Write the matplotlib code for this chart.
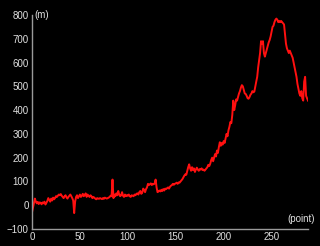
import matplotlib
matplotlib.use("Agg")
import matplotlib.pyplot as plt

elevation_m = [
    -30, -10, 12, 28, 15, 8, 14, 5, 12, 10,
    4, 12, 8, 15, 3, 10, 18, 30, 22, 15,
    28, 20, 32, 25, 30, 38, 35, 40, 45, 42,
    47, 40, 35, 30, 38, 42, 33, 28, 35, 40,
    45, 38, 30, 20, -33, 15, 35, 42, 30, 38,
    45, 35, 40, 48, 38, 42, 50, 35, 45, 40,
    35, 42, 38, 30, 35, 32, 28, 25, 30, 28,
    27, 30, 28, 26, 30, 27, 32, 30, 28, 30,
    32, 35, 40, 38, 108, 30, 45, 38, 50, 42,
    60, 45, 38, 42, 55, 40, 35, 45, 38, 42,
    40, 45, 38, 35, 42, 40, 38, 45, 42, 48,
    50, 45, 55, 60, 48, 52, 70, 65, 55, 68,
    75, 90, 85, 88, 92, 85, 90, 88, 92, 108,
    75, 55, 58, 62, 58, 65, 60, 68, 62, 70,
    68, 72, 75, 70, 78, 82, 85, 90, 86, 90,
    92, 95, 90, 96, 95, 100, 105, 110, 118, 125,
    130, 128, 145, 160, 172, 155, 145, 160, 148, 155,
    140, 150, 158, 150, 145, 152, 150, 155, 148, 150,
    145, 150, 155, 160, 170, 165, 175, 190, 200, 185,
    200, 215, 205, 230, 220, 245, 265, 250, 262, 255,
    270, 262, 280, 300, 290, 315, 330, 350, 345, 380,
    440, 400, 420, 445, 440, 455, 470, 480, 495, 505,
    500, 485, 470, 468, 460, 450, 448, 455, 465, 470,
    480, 475, 478, 500, 520, 540, 580, 610, 640, 690,
    680, 690, 640, 625, 640, 655, 670, 685, 695, 710,
    730, 750, 755, 770, 780, 785, 780, 770, 775, 770,
    775, 770, 765, 760, 720, 680, 660, 650, 640, 650,
    640, 630, 620, 600, 580, 560, 540, 510, 490, 470,
    460, 480, 450, 440, 520, 540, 460, 450, 440,
]
point_index = list(range(len(elevation_m)))
x_ticks = [0, 50, 100, 150, 200, 250]
y_ticks = [-100, 0, 100, 200, 300, 400, 500, 600, 700, 800]

plt.rcParams['font.family'] = ['Liberation Sans', 'DejaVu Sans']

fig = plt.figure(figsize=(3.2, 2.46), dpi=100, facecolor='black')
ax = fig.add_axes([0.1, 0.069, 0.8625, 0.87])
ax.set_facecolor('black')
ax.plot(point_index, elevation_m, color='#ff1010', linewidth=1.4)

ax.set_xlim(0, 288)
ax.set_ylim(-100, 800)
ax.set_xticks(x_ticks)
ax.set_yticks(y_ticks)
ax.tick_params(length=0, labelsize=7, colors='#e0e0e0', pad=2.5)
for s in ['top', 'right']:
    ax.spines[s].set_visible(False)
for s in ['left', 'bottom']:
    ax.spines[s].set_color('#9a9a9a')
    ax.spines[s].set_linewidth(1.0)

ax.text(0.008, 1.0, '(m)', transform=ax.transAxes, ha='left', va='center',
        fontsize=7, color='#e0e0e0')
ax.text(1.025, 0.045, '(point)', transform=ax.transAxes, ha='right', va='center',
        fontsize=7, color='#e0e0e0')

fig.savefig('out.png', dpi=100, facecolor='black')
